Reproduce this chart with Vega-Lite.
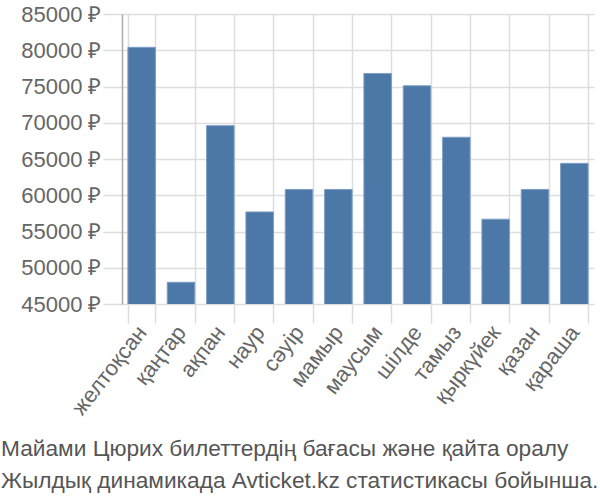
{
  "$schema": "https://vega.github.io/schema/vega-lite/v6.json",
  "autosize": {"type": "none"},
  "width": 472,
  "height": 290,
  "padding": {"left": 122, "top": 14, "right": 6, "bottom": 196},
  "background": "white",
  "data": {"values": [
    {"month": "желтоқсан", "price": 80400},
    {"month": "қаңтар", "price": 48000},
    {"month": "ақпан", "price": 69600},
    {"month": "наур", "price": 57700},
    {"month": "сәуір", "price": 60800},
    {"month": "мамыр", "price": 60800},
    {"month": "маусым", "price": 76800},
    {"month": "шілде", "price": 75100},
    {"month": "тамыз", "price": 68000},
    {"month": "қыркүйек", "price": 56700},
    {"month": "қазан", "price": 60800},
    {"month": "қараша", "price": 64400}
  ]},
  "title": {
    "text": ["Майами Цюрих билеттердің бағасы және қайта оралу", "Жылдық динамикада Avticket.kz статистикасы бойынша."],
    "orient": "bottom",
    "anchor": "start",
    "frame": "group",
    "dx": -121,
    "offset": 20,
    "font": "Liberation Sans",
    "fontSize": 22.7,
    "fontWeight": "normal",
    "color": "#555555",
    "lineHeight": 32
  },
  "config": {
    "view": {"stroke": null},
    "axis": {
      "labelFont": "Liberation Sans",
      "labelFontSize": 22,
      "labelColor": "#666666",
      "gridColor": "#dddddd",
      "gridWidth": 1.5,
      "tickColor": "#dddddd",
      "tickWidth": 1.5,
      "tickSize": 19
    }
  },
  "mark": {"type": "bar", "color": "#4c78a8", "stroke": "#7f9fc4", "strokeWidth": 1, "clip": true},
  "encoding": {
    "x": {
      "field": "month",
      "type": "nominal",
      "sort": null,
      "scale": {"paddingInner": 0.3, "paddingOuter": 0.15},
      "axis": {
        "title": null,
        "labelAngle": -52,
        "labelAlign": "right",
        "labelBaseline": "middle",
        "labelPadding": 5,
        "tickBand": "extent",
        "grid": true,
        "domain": false
      }
    },
    "y": {
      "field": "price",
      "type": "quantitative",
      "scale": {"domain": [45000, 85000], "nice": false, "zero": false},
      "axis": {
        "title": null,
        "values": [45000, 50000, 55000, 60000, 65000, 70000, 75000, 80000, 85000],
        "labelExpr": "datum.value + ' ₽'",
        "labelPadding": 2,
        "domain": true,
        "domainColor": "#aaaaaa",
        "domainWidth": 1.5
      }
    }
  }
}
